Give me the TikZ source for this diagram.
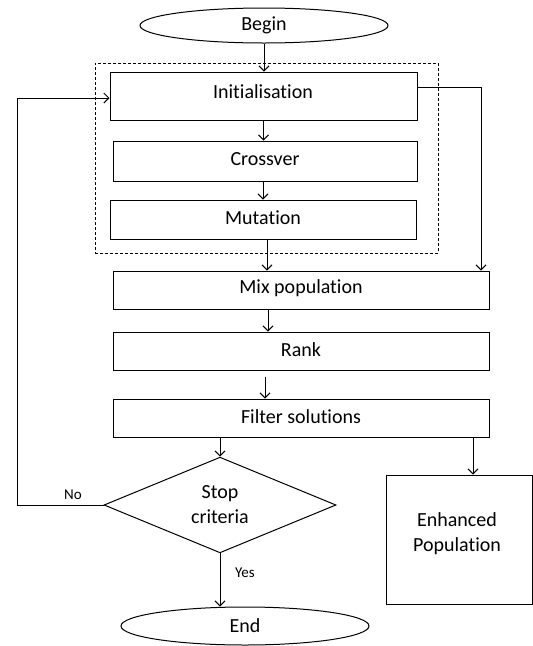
\documentclass[tikz,border=0pt]{standalone}
\usepackage{fontspec}
\setmainfont{Carlito}[Ligatures=NoCommon]
\usetikzlibrary{shapes.geometric,arrows.meta,calc}
\begin{document}
\begin{tikzpicture}[x=1pt,y=-1pt,
  every node/.style={font=\fontsize{20}{25}\selectfont,text=black},
  box/.style={draw,line width=1pt,rectangle,inner sep=0pt},
  oval/.style={draw,line width=1pt,ellipse,inner sep=0pt},
  arr/.style={draw,line width=1pt,-{Straight Barb[length=5pt,width=10pt]}},
  small/.style={font=\fontsize{15}{17}\selectfont}]
\useasboundingbox (0,0) rectangle (533,646);
\node[oval,minimum width=248pt,minimum height=35pt] (begin) at (264,25.5) {Begin};
\node[draw,line width=0.9pt,dash pattern=on 3pt off 2pt,minimum width=343pt,minimum height=190pt,inner sep=0pt] (grp) at (266.5,158) {};
\node[box,minimum width=307pt,minimum height=48pt] (init) at (263.5,96) {};
\node (initt) at (263,92) {Initialisation};
\node[box,minimum width=304pt,minimum height=40pt] (cross) at (265,161) {};
\node (crosst) at (265,159) {Crossver};
\node[box,minimum width=306pt,minimum height=39pt] (mut) at (263,219.5) {};
\node (mutt) at (263,218) {Mutation};
\node[box,minimum width=376pt,minimum height=38pt] (mix) at (301,290) {};
\node (mixt) at (301,288.5) {Mix population};
\node[box,minimum width=376pt,minimum height=38pt] (rank) at (301,351) {};
\node (rankt) at (301,350) {Rank};
\node[box,minimum width=376pt,minimum height=38pt] (filter) at (301,418) {};
\node (filtert) at (301,416.5) {Filter solutions};
\node[draw,line width=1pt,diamond,minimum width=232pt,minimum height=94pt,inner sep=0pt,align=center] (stop) at (220,505) {Stop\\criteria};
\node[box,minimum width=146pt,minimum height=129pt] (enh) at (459,539.5) {};
\node[align=center] (enht) at (457,534) {Enhanced\\Population};
\node[oval,minimum width=248pt,minimum height=38pt] (end) at (245,626) {End};
\node[small] (no) at (73,495) {No};
\node[small] (yes) at (245,573) {Yes};
% connectors
\coordinate (mm) at ($(mut.south)+(4,0)$);
\coordinate (fe) at ($(filter.south)+(172,0)$);
\coordinate (lp) at (17,505);
\draw[arr] (begin.south) -- (begin.south |- init.north);
\draw[arr] (init.south) -- (init.south |- cross.north);
\draw[arr] (mut.north |- cross.south) -- (mut.north);
\draw[arr] (mm) -- (mm |- mix.north);
\draw[arr] ($(mix.south)+(-33,0)$) -- ($(rank.north)+(-33,0)$);
\draw[arr] ($(rank.south)+(-36,6)$) -- ($(filter.north)+(-36,0)$);
\draw[arr] ($(filter.south)+(-81,0)$) -- (stop.north);
\draw[arr] ($(init.north east)+(0,16)$) -| ($(mix.north)+(180,0)$);
\draw[arr] (fe) -- (fe |- enh.north);
\draw[arr] (stop.west) -- (lp) |- ($(init.west)+(0,2)$);
\draw[arr] (stop.south) -- (stop.south |- end.north);
\end{tikzpicture}
\end{document}
